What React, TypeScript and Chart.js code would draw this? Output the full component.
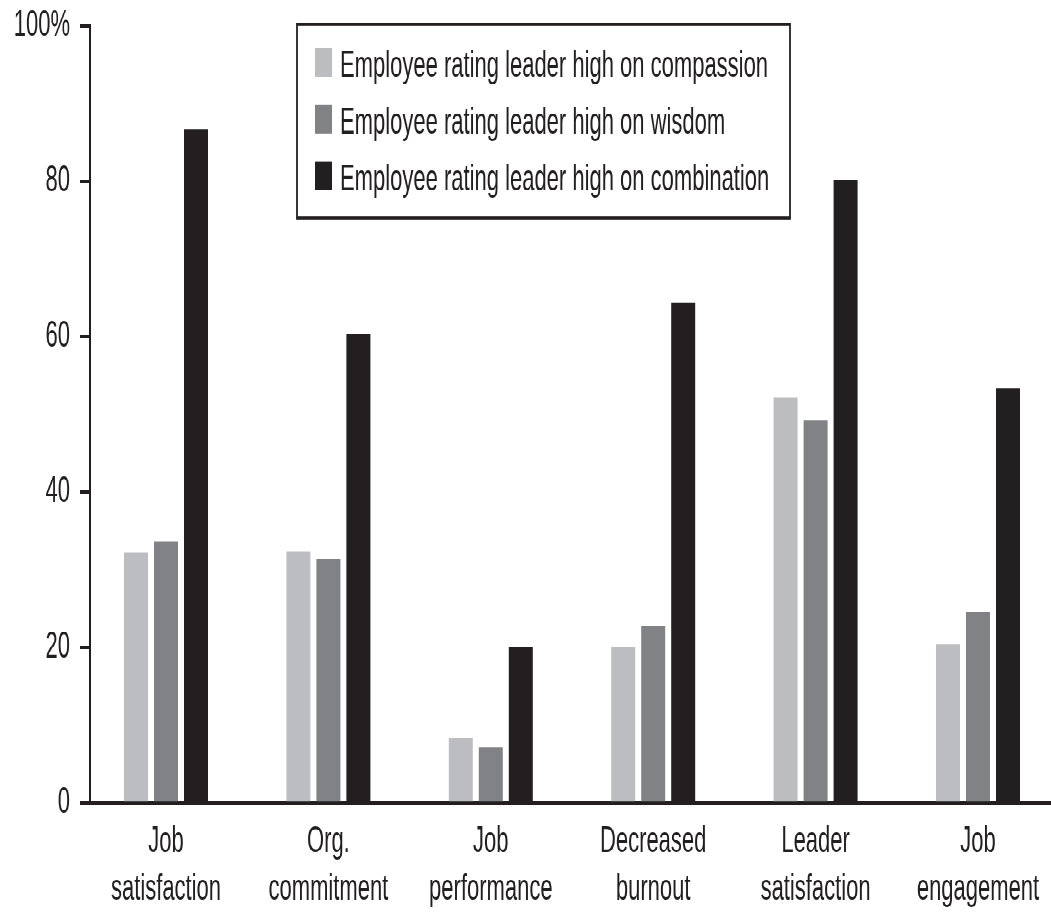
import React, { useEffect, useRef } from 'react';
import { Chart, registerables } from 'chart.js';

Chart.register(...registerables);

// ---- data ----
const categories: string[][] = [
  ['Job', 'satisfaction'],
  ['Org.', 'commitment'],
  ['Job', 'performance'],
  ['Decreased', 'burnout'],
  ['Leader', 'satisfaction'],
  ['Job', 'engagement'],
];
const seriesLabels = [
  'Employee rating leader high on compassion',
  'Employee rating leader high on wisdom',
  'Employee rating leader high on combination',
];
const compassion = [32.2, 32.3, 8.4, 20.1, 52.2, 20.4];
const wisdom = [33.6, 31.4, 7.2, 22.8, 49.2, 24.6];
const combination = [86.6, 60.3, 20.1, 64.3, 80.1, 53.3];
const yTickValues = [0, 20, 40, 60, 80, 100];
const yTickLabels = ['0', '20', '40', '60', '80', '100%'];

// ---- styling ----
const INK = '#231f20';
const COLORS = ['#bcbdc0', '#818285', '#231f20'];
const FONT = '"Liberation Sans", Arial, Helvetica, sans-serif';
const W = 1060;
const H = 550;
const STRETCH = 919 / H;
// visible x range (category index units) so the groups sit where the reference puts them
const X_MIN = -0.468;
const X_MAX = 5.505;

const boxLegend = {
  id: 'boxLegend',
  afterDraw(chart: any) {
    const ctx = chart.ctx;
    const x = 297;
    const y = 14.5;
    const w = 493;
    const h = 116;
    ctx.save();
    ctx.fillStyle = '#ffffff';
    ctx.fillRect(x, y, w, h);
    ctx.strokeStyle = INK;
    ctx.lineWidth = 1.8;
    ctx.strokeRect(x, y, w, h);
    ctx.font = `22px ${FONT}`;
    ctx.textAlign = 'left';
    ctx.textBaseline = 'alphabetic';
    chart.data.datasets.forEach((ds: any, i: number) => {
      const bottom = 46 + i * 33.9;
      ctx.fillStyle = ds.backgroundColor;
      ctx.fillRect(315, bottom - 17, 17, 17);
      ctx.fillStyle = INK;
      ctx.fillText(ds.label, 340, bottom);
    });
    ctx.restore();
  },
};

export default function App() {
  const ref = useRef<HTMLCanvasElement | null>(null);

  useEffect(() => {
    if (!ref.current) return;
    const data = [compassion, wisdom, combination];
    const chart = new Chart(ref.current, {
      type: 'bar',
      data: {
        datasets: data.map((d, i) => ({
          label: seriesLabels[i],
          data: d.map((v, j) => ({ x: j, y: v })),
          backgroundColor: COLORS[i],
          borderWidth: 0,
          categoryPercentage: 0.5542,
          barPercentage: 0.8,
        })),
      },
      options: {
        animation: false,
        responsive: false,
        devicePixelRatio: 2,
        layout: { padding: { left: 12, top: 15.3, right: 0, bottom: 0 } },
        plugins: {
          legend: { display: false },
          tooltip: { enabled: false },
        },
        scales: {
          x: {
            type: 'linear',
            min: X_MIN,
            max: X_MAX,
            offset: false,
            grid: { display: false, drawTicks: false },
            border: { display: true, color: INK, width: 2 },
            afterBuildTicks: (s: any) => {
              s.ticks = categories.map((_, i) => ({ value: i }));
            },
            ticks: {
              color: INK,
              font: { family: FONT, size: 22, lineHeight: 1.3 },
              padding: 9,
              maxRotation: 0,
              autoSkip: false,
              callback: (v: any) => categories[Math.round(Number(v))] ?? '',
            },
            afterFit: (s: any) => {
              s.height = H - 480.6;
              s.paddingLeft = 0;
              s.paddingRight = 0;
            },
          },
          y: {
            min: 0,
            max: 100,
            grid: {
              display: true,
              drawOnChartArea: false,
              drawTicks: true,
              tickLength: 10,
              color: INK,
              lineWidth: 2,
            },
            border: { display: true, color: INK, width: 2 },
            afterBuildTicks: (s: any) => {
              s.ticks = yTickValues.map((v) => ({ value: v }));
            },
            ticks: {
              color: INK,
              font: { family: FONT, size: 22 },
              padding: 10,
              callback: (v: any) => {
                const idx = yTickValues.indexOf(Number(v));
                return idx >= 0 ? yTickLabels[idx] : '';
              },
            },
            afterFit: (s: any) => {
              s.width = 78;
              s.paddingTop = 0;
              s.paddingBottom = 0;
            },
          },
        },
      },
      plugins: [boxLegend],
    } as any);
    return () => chart.destroy();
  }, []);

  return (
    <div
      style={{
        position: 'absolute',
        left: 0,
        top: 0,
        width: 1051,
        height: H,
        overflow: 'hidden',
        transform: `scaleY(${STRETCH})`,
        transformOrigin: '0 0',
        background: '#ffffff',
      }}
    >
      <canvas ref={ref} width={W} height={H} style={{ width: W, height: H, display: 'block' }} />
    </div>
  );
}
